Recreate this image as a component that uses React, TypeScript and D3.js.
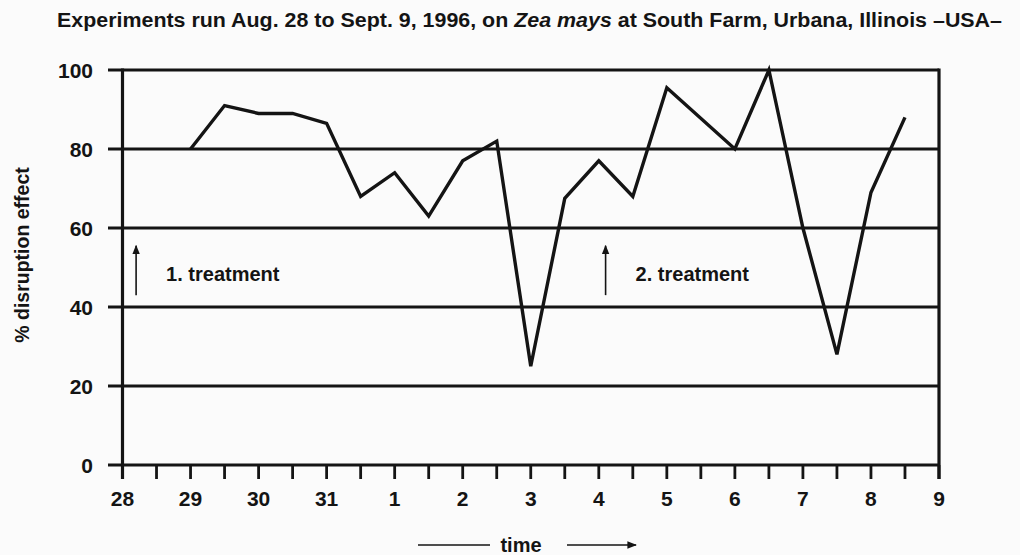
import React from "react";
import * as d3 from "d3";

const dayLabels = ["28", "29", "30", "31", "1", "2", "3", "4", "5", "6", "7", "8", "9"];
const yTicks = [0, 20, 40, 60, 80, 100];
// time in days after Aug. 28
const times = [1, 1.5, 2, 2.5, 3, 3.5, 4, 4.5, 5, 5.5, 6, 6.5, 7, 7.5, 8, 9, 9.5, 10, 10.5, 11, 11.5];
const disruption = [80, 91, 89, 89, 86.5, 68, 74, 63, 77, 82, 25, 67.5, 77, 68, 95.5, 80, 100, 60, 28, 69, 88];
const treatments = [
  { t: 0.2, label: "1. treatment" },
  { t: 7.1, label: "2. treatment" },
];

const W = 1020;
const H = 555;
const FONT = "'Liberation Sans', Arial, sans-serif";
const INK = "#141414";

export default function App() {
  const x = d3.scaleLinear().domain([0, 12]).range([122.5, 939]);
  const y = d3.scaleLinear().domain([0, 100]).range([465, 70]);
  const halfTicks = d3.range(0, 12.01, 0.5);
  const line = d3
    .line<number>()
    .x((_, i) => x(times[i]))
    .y((d) => y(d));
  const pathD = line(disruption) || "";

  return (
    <svg
      width={W}
      height={H}
      viewBox={`0 0 ${W} ${H}`}
      style={{ position: "absolute", left: 0, top: 0, background: "#fbfbfb" }}
      fontFamily={FONT}
    >
      <defs>
        <marker id="ah" viewBox="0 0 10 10" refX="9" refY="5" markerWidth="6" markerHeight="6" orient="auto">
          <path d="M0,1 L10,5 L0,9 z" fill={INK} />
        </marker>
      </defs>
      {/* title */}
      <text
        x={57}
        y={27}
        fontSize={20}
        fontWeight="bold"
        fill={INK}
        textLength={945}
        lengthAdjust="spacingAndGlyphs"
      >
        Experiments run Aug. 28 to Sept. 9, 1996, on <tspan fontStyle="italic">Zea mays</tspan> at South Farm, Urbana, Illinois –USA–
      </text>

      {/* horizontal gridlines incl. left ticks */}
      {yTicks.map((v) => (
        <line key={"g" + v} x1={108} x2={939} y1={y(v)} y2={y(v)} stroke={INK} strokeWidth={2.8} />
      ))}
      {/* y tick labels */}
      {yTicks.map((v) => (
        <text
          key={"yl" + v}
          x={93}
          y={y(v)}
          dy="0.36em"
          textAnchor="end"
          fontSize={21}
          fontWeight="bold"
          fill={INK}
        >
          {v}
        </text>
      ))}
      {/* left and right axis lines */}
      <line x1={x(0)} x2={x(0)} y1={y(100) - 1.4} y2={479} stroke={INK} strokeWidth={3.2} />
      <line x1={x(12)} x2={x(12)} y1={y(100) - 1.4} y2={479} stroke={INK} strokeWidth={3.2} />
      {/* x ticks */}
      {halfTicks.map((t) => (
        <line key={"xt" + t} x1={x(t)} x2={x(t)} y1={y(0)} y2={479} stroke={INK} strokeWidth={2.8} />
      ))}
      {dayLabels.map((lab, i) => (
        <text
          key={"xl" + i}
          x={x(i)}
          y={498}
          dy="0.36em"
          textAnchor="middle"
          fontSize={21}
          fontWeight="bold"
          fill={INK}
        >
          {lab}
        </text>
      ))}

      {/* data line */}
      <path d={pathD} fill="none" stroke={INK} strokeWidth={3.4} strokeLinejoin="miter" />

      {/* treatment arrows */}
      {treatments.map((tr) => (
        <g key={tr.label}>
          <line
            x1={x(tr.t)}
            x2={x(tr.t)}
            y1={y(43)}
            y2={y(55.5)}
            stroke={INK}
            strokeWidth={1.6}
            markerEnd="url(#ah)"
          />
          <text x={x(tr.t) + 30} y={y(48.5)} dy="0.36em" fontSize={20} fontWeight="bold" fill={INK}>
            {tr.label}
          </text>
        </g>
      ))}

      {/* y axis title */}
      <text
        transform={`translate(22,255) rotate(-90)`}
        textAnchor="middle"
        dy="0.36em"
        fontSize={19.5}
        fontWeight="bold"
        fill={INK}
      >
        % disruption effect
      </text>

      {/* time label */}
      <line x1={418} x2={490} y1={545} y2={545} stroke={INK} strokeWidth={1.6} />
      <text x={521} y={545} dy="0.36em" textAnchor="middle" fontSize={20} fontWeight="bold" fill={INK}>
        time
      </text>
      <line x1={567} x2={636} y1={545} y2={545} stroke={INK} strokeWidth={1.6} markerEnd="url(#ah)" />
    </svg>
  );
}
